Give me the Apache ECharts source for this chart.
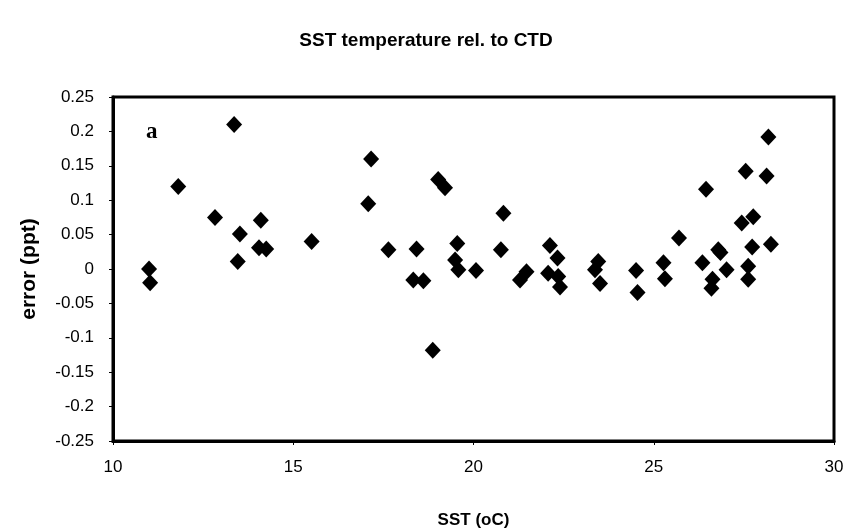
<!DOCTYPE html>
<html>
<head>
<meta charset="utf-8">
<script src="https://cdn.jsdelivr.net/npm/echarts@6/dist/echarts.min.js"></script>
<style>
html,body{margin:0;padding:0;background:#fff;}
#chart{width:852px;height:532px;}
</style>
</head>
<body>
<div id="chart"></div>
<script>
// SST (°C) of each sample
const sst = [
  11.0, 11.03, 11.81, 12.83, 13.36, 13.46, 13.52, 14.05, 14.1, 14.25, 15.51,
  17.08, 17.16, 17.64, 18.33, 18.42, 18.61, 18.87, 19.02, 19.21, 19.49, 19.55, 19.58,
  20.07, 20.76, 20.83, 21.29, 21.47, 22.07, 22.12, 22.33, 22.35, 22.4,
  23.37, 23.46, 23.51, 24.51, 24.55, 25.27, 25.31, 25.7,
  26.35, 26.45, 26.6, 26.63, 26.79, 26.85, 27.02, 27.44, 27.55, 27.62, 27.62,
  27.73, 27.76, 28.13, 28.18, 28.25
];
// Salinity error (ppt) of each sample
const err = [
  0.0, -0.02, 0.12, 0.075, 0.21, 0.011, 0.051, 0.031, 0.071, 0.029, 0.04,
  0.095, 0.16, 0.028, -0.016, 0.029, -0.017, -0.118, 0.13, 0.118, 0.013, 0.037, -0.001,
  -0.002, 0.028, 0.081, -0.016, -0.004, -0.006, 0.034, 0.016, -0.011, -0.026,
  -0.001, 0.011, -0.021, -0.002, -0.034, 0.009, -0.014, 0.045,
  0.009, 0.116, -0.028, -0.015, 0.028, 0.024, -0.001, 0.067, 0.142, 0.004, -0.015,
  0.032, 0.076, 0.135, 0.192, 0.036
];
const titleText = 'SST temperature rel. to CTD';
const xName = 'SST (oC)';
const yName = 'error (ppt)';
const panelTag = 'a';

const points = sst.map((x, i) => [x, err[i]]);

const chart = echarts.init(document.getElementById('chart'), null, {renderer: 'canvas'});
const sans = 'Arial, "Liberation Sans", sans-serif';

chart.setOption({
  backgroundColor: '#ffffff',
  animation: false,
  title: {
    text: titleText,
    left: 'center',
    top: 26,
    textStyle: {fontFamily: sans, fontSize: 19, fontWeight: 'bold', color: '#000'}
  },
  grid: {
    left: 113, right: 18, top: 97, bottom: 91,
    outerBoundsMode: 'none',
    containLabel: false,
    show: true, borderColor: '#000', borderWidth: 3, backgroundColor: '#fff'
  },
  xAxis: {
    type: 'value',
    min: 10, max: 30, interval: 5,
    name: xName,
    nameLocation: 'middle',
    nameGap: 71,
    nameTextStyle: {fontFamily: sans, fontSize: 17, fontWeight: 'bold', color: '#000'},
    axisLine: {show: true, onZero: false, lineStyle: {color: '#000', width: 3}},
    axisTick: {show: true, length: 4, inside: false, lineStyle: {color: '#000', width: 1}},
    axisLabel: {fontFamily: sans, fontSize: 17, color: '#000', margin: 18},
    splitLine: {show: false}
  },
  yAxis: {
    type: 'value',
    min: -0.25, max: 0.25, interval: 0.05,
    name: yName,
    nameLocation: 'middle',
    nameGap: 73,
    nameRotate: 90,
    nameTextStyle: {fontFamily: sans, fontSize: 21, fontWeight: 'bold', color: '#000'},
    axisLine: {show: true, onZero: false, lineStyle: {color: '#000', width: 3}},
    axisTick: {show: true, length: 4, inside: false, lineStyle: {color: '#000', width: 1}},
    axisLabel: {
      fontFamily: sans, fontSize: 17, color: '#000', margin: 19,
      formatter: v => String(parseFloat(v.toFixed(2)))
    },
    splitLine: {show: false}
  },
  graphic: [{
    type: 'text',
    left: 146, top: 121,
    style: {text: panelTag, font: 'bold 23px "Liberation Serif", "Times New Roman", serif', fill: '#000'}
  }],
  series: [{
    type: 'scatter',
    data: points,
    symbol: 'diamond',
    symbolSize: [16, 17],
    itemStyle: {color: '#000', opacity: 1}
  }]
});
</script>
</body>
</html>
